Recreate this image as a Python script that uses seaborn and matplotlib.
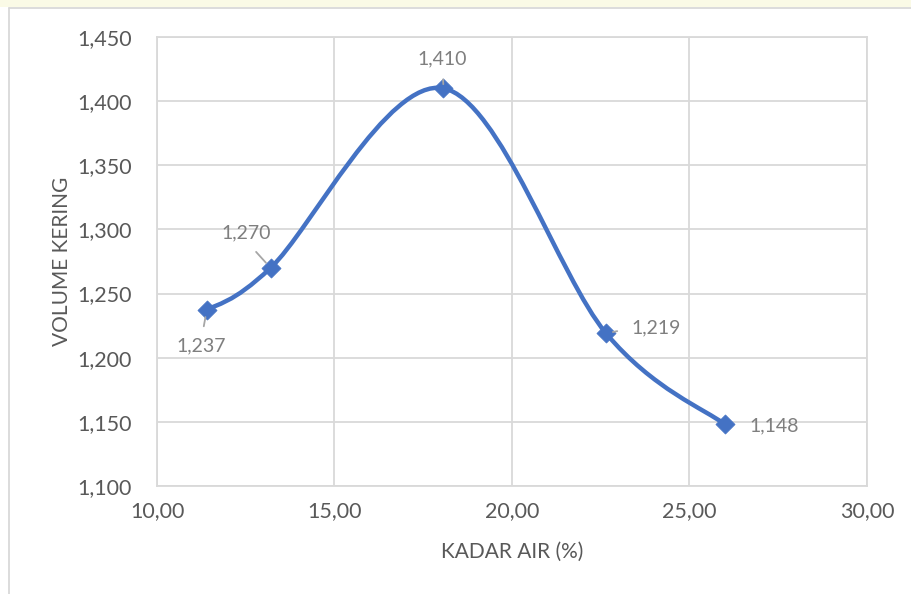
import numpy as np
import pandas as pd
import seaborn as sns
import matplotlib
matplotlib.use("Agg")
import matplotlib.pyplot as plt
from matplotlib.path import Path
from matplotlib.patches import PathPatch, Rectangle
from matplotlib.lines import Line2D
from matplotlib.ticker import FuncFormatter, MultipleLocator

# Moisture content (%) versus dry volume
kadar_air = [11.40, 13.20, 18.07, 22.65, 26.00]
volume_kering = [1.237, 1.270, 1.410, 1.219, 1.148]
label_text = ["1,237", "1,270", "1,410", "1,219", "1,148"]

df = pd.DataFrame({"KADAR AIR (%)": kadar_air, "VOLUME KERING": volume_kering})

sns.set_theme(style="white")
plt.rcParams["font.family"] = ["Lato", "DejaVu Sans"]

BLUE = "#4472C4"
GRID = "#d9d9d9"
TICK = "#595959"
LABEL = "#7f7f7f"

fig = plt.figure(figsize=(9.12, 5.94), dpi=100)
fig.patch.set_facecolor("white")

# faint band at the top edge and the chart frame
fig.patches.append(Rectangle((0, 1 - 7 / 594), 1, 7 / 594, transform=fig.transFigure,
                             facecolor="#fafae6", edgecolor="none", zorder=0))
fig.lines.append(Line2D([9 / 912, 1], [1 - 7.5 / 594, 1 - 7.5 / 594], transform=fig.transFigure,
                        color="#d6d6d6", lw=1.2))
fig.lines.append(Line2D([9.5 / 912, 9.5 / 912], [0, 1 - 7.5 / 594], transform=fig.transFigure,
                        color="#d6d6d6", lw=1.2))

ax = fig.add_axes([157 / 912, 1 - 486 / 594, 710 / 912, 449 / 594])

# smoothed connecting line: cubic Bezier segments through the points
xs = np.array(kadar_air)
ys = np.array(volume_kering)
n = len(xs)
verts = [(xs[0], ys[0])]
codes = [Path.MOVETO]
for i in range(n - 1):
    p0 = np.array([xs[max(i - 1, 0)], ys[max(i - 1, 0)]])
    p1 = np.array([xs[i], ys[i]])
    p2 = np.array([xs[i + 1], ys[i + 1]])
    p3 = np.array([xs[min(i + 2, n - 1)], ys[min(i + 2, n - 1)]])
    c1 = p1 + (p2 - p0) / 6.0
    c2 = p2 - (p3 - p1) / 6.0
    verts += [tuple(c1), tuple(c2), tuple(p2)]
    codes += [Path.CURVE4, Path.CURVE4, Path.CURVE4]
ax.add_patch(PathPatch(Path(verts, codes), facecolor="none", edgecolor=BLUE,
                       lw=3.2, capstyle="round", joinstyle="round", zorder=3))

sns.scatterplot(data=df, x="KADAR AIR (%)", y="VOLUME KERING", marker="D", s=95,
                color=BLUE, edgecolor=BLUE, linewidth=0.5, ax=ax, zorder=4)

ax.set_xlim(10, 30)
ax.set_ylim(1.100, 1.450)
ax.xaxis.set_major_locator(MultipleLocator(5))
ax.yaxis.set_major_locator(MultipleLocator(0.05))
ax.xaxis.set_major_formatter(FuncFormatter(lambda v, p: f"{v:.2f}".replace(".", ",")))
ax.yaxis.set_major_formatter(FuncFormatter(lambda v, p: f"{v:.3f}".replace(".", ",")))
ax.grid(True, color=GRID, lw=1.3)
ax.set_axisbelow(True)
for s in ax.spines.values():
    s.set_visible(True)
    s.set_color(GRID)
    s.set_linewidth(1.3)
ax.tick_params(axis="both", which="both", length=0, labelsize=15.5, colors=TICK)
ax.tick_params(axis="y", pad=18)
ax.tick_params(axis="x", pad=11)

ax.set_xlabel("KADAR AIR (%)", fontsize=15, color=TICK, labelpad=15)
ax.set_ylabel("VOLUME KERING", fontsize=15, color=TICK, labelpad=4)

# value labels with leader lines (offsets in pixels)
offsets = [(-5, -36), (-24, 35), (-1, 29), (50, 5), (49, -1)]
leaders = [dict(relpos=(0.5, 1.0), shrinkA=6, shrinkB=5),
           dict(relpos=(0.5, 0.0), shrinkA=7, shrinkB=5),
           dict(relpos=(0.5, 0.0), shrinkA=6, shrinkB=3),
           dict(relpos=(0.0, 0.5), shrinkA=8, shrinkB=5),
           None]
for x, y, t, off, ld in zip(kadar_air, volume_kering, label_text, offsets, leaders):
    kw = {}
    if ld is not None:
        kw["arrowprops"] = dict(arrowstyle="-", color="#a6a6a6", lw=1.3, **ld)
    ax.annotate(t, xy=(x, y), xytext=off, textcoords="offset pixels",
                ha="center", va="center", fontsize=14, color=LABEL, zorder=5, **kw)

fig.savefig("out.png", dpi=100, facecolor="white")
